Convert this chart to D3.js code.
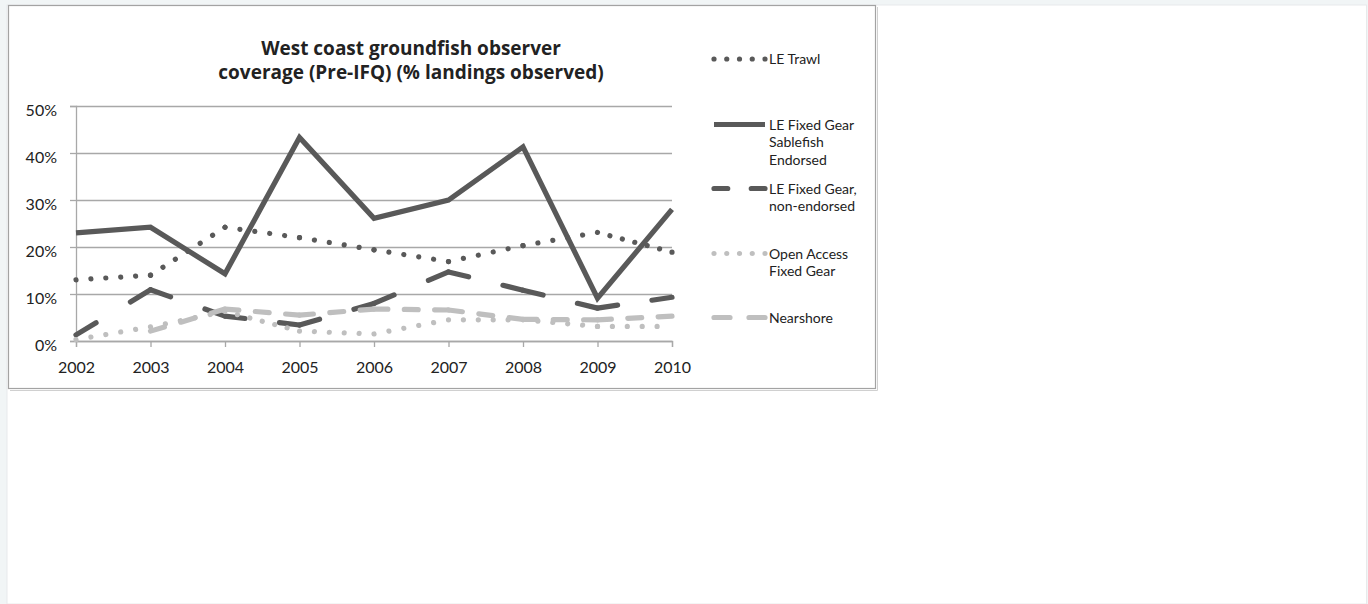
<!DOCTYPE html>
<html><head><meta charset="utf-8">
<script src="https://cdn.jsdelivr.net/npm/d3@7"></script>
<style>
html,body{margin:0;padding:0;background:#f1f5f6;}
svg{display:block;}
text{font-family:Lato,"Open Sans",sans-serif;fill:#222;}
</style></head><body>
<svg id="chart" width="1368" height="604"></svg>
<script>
// ---- data ----
const years = [2002, 2003, 2004, 2005, 2006, 2007, 2008, 2009, 2010];
const leTrawl        = [13.0, 14.0, 24.2, 22.0, 19.4, 16.9, 20.3, 23.1, 18.9];
const leFixedSable   = [23.0, 24.2, 14.3, 43.3, 26.1, 30.0, 41.3, 9.1, 28.0];
const leFixedNonEnd  = [1.3, 10.9, 5.3, 3.4, 8.0, 14.7, 10.8, 7.0, 9.3];
const openAccess     = [0.3, 3.0, 6.3, 2.1, 1.5, 4.5, 4.5, 3.1, 3.1];
const nearshore      = [null, 2.1, 6.8, 5.5, 6.8, 6.6, 4.6, 4.5, 5.3];
const yTicks = [0, 10, 20, 30, 40, 50];
const titleLines = ["West coast groundfish observer", "coverage (Pre-IFQ) (% landings observed)"];
const legendLabels = [
  ["LE Trawl"],
  ["LE Fixed Gear", "Sablefish", "Endorsed"],
  ["LE Fixed Gear,", "non-endorsed"],
  ["Open Access", "Fixed Gear"],
  ["Nearshore"]
];

const DARK = "#595959", LIGHT = "#bfbfbf";
const series = [
  {values: leTrawl, color: DARK, kind: "dot"},
  {values: leFixedSable, color: DARK, kind: "solid"},
  {values: leFixedNonEnd, color: DARK, kind: "dash", d: 24, g: 27},
  {values: openAccess, color: LIGHT, kind: "dot"},
  {values: nearshore, color: LIGHT, kind: "dash", d: 18, g: 10}
];

const svg = d3.select("#chart");
// page white area
svg.append("rect").attr("x", 7).attr("y", 5).attr("width", 1359.5).attr("height", 599)
  .attr("fill", "#fff").attr("stroke", "#e8eaeb").attr("stroke-width", 1);
// chart box
svg.append("rect").attr("x", 8.5).attr("y", 5.5).attr("width", 867).attr("height", 383)
  .attr("fill", "#fff").attr("stroke", "#a3a3a3").attr("stroke-width", 1.2);
svg.append("path").attr("d", "M876.5,6 V389.5 H9").attr("fill", "none")
  .attr("stroke", "#d0d0d0").attr("stroke-width", 1).attr("transform", "translate(1,1)");

const x = d3.scaleLinear().domain([2002, 2010]).range([76, 672]);
const y = d3.scaleLinear().domain([0, 50]).range([341, 106]);

// gridlines
const grid = svg.append("g").attr("transform", "translate(76,0)")
  .call(d3.axisLeft(y).tickValues(yTicks).tickSize(-(672 - 76)).tickFormat(""));
grid.select(".domain").remove();
grid.selectAll("line").attr("stroke", "#a8a8a8").attr("stroke-width", 1.3);

// y axis
const yAx = svg.append("g").attr("transform", "translate(76,0)")
  .call(d3.axisLeft(y).tickValues(yTicks).tickSize(6).tickPadding(13).tickFormat(d => d + "%"));
yAx.select(".domain").attr("stroke", "#a8a8a8").attr("stroke-width", 1.3);
yAx.selectAll("line").attr("stroke", "#a8a8a8").attr("stroke-width", 1.3);
yAx.selectAll("text").attr("dy", "0.6em").style("font-size", "16px").style("font-family", "Lato");

// x axis
const xAx = svg.append("g").attr("transform", "translate(0,341)")
  .call(d3.axisBottom(x).tickValues(years).tickSize(6).tickPadding(15).tickFormat(d3.format("d")));
xAx.select(".domain").attr("stroke", "#a8a8a8").attr("stroke-width", 1.3);
xAx.selectAll("line").attr("stroke", "#a8a8a8").attr("stroke-width", 1.3);
xAx.selectAll("text").style("font-size", "16px").style("font-family", "Lato");

// title
svg.append("g").selectAll("text").data(titleLines).join("text")
  .attr("x", 411).attr("y", (d, i) => 55 + i * 24)
  .attr("text-anchor", "middle")
  .style("font-family", "'Open Sans'")
  .style("font-size", "19px").style("font-weight", "bold")
  .text(d => d);

const W = 5.2;
function styleSeg(path, L, s) {
  if (s.kind === "dot") {
    const n = Math.max(1, Math.round(L / 14));
    const sp = L / n;
    path.attr("stroke-dasharray", `0.01 ${sp - 0.01}`).attr("stroke-linecap", "round");
  } else if (s.kind === "dash") {
    const a0 = s.d - W, b0 = s.g + W;
    const n = Math.max(1, Math.round((L + b0) / (a0 + b0)));
    const k = L / (n * a0 + (n - 1) * b0);
    path.attr("stroke-dasharray", `${a0 * k} ${b0 * k}`).attr("stroke-linecap", "round");
  }
}

const line = d3.line().x(d => d[0]).y(d => d[1]);
const plot = svg.append("g");
series.forEach(s => {
  const pts = years.map((yr, i) => s.values[i] == null ? null : [x(yr), y(s.values[i])]);
  if (s.kind === "solid") {
    plot.append("path")
      .attr("d", d3.line().defined(d => d != null).x(d => d[0]).y(d => d[1])(pts))
      .attr("fill", "none").attr("stroke", s.color).attr("stroke-width", W)
      .attr("stroke-linejoin", "miter");
  } else {
    for (let i = 0; i < pts.length - 1; i++) {
      const p = pts[i], q = pts[i + 1];
      if (!p || !q) continue;
      const L = Math.hypot(q[0] - p[0], q[1] - p[1]);
      const path = plot.append("path").attr("d", line([p, q]))
        .attr("fill", "none").attr("stroke", s.color).attr("stroke-width", W);
      styleSeg(path, L, s);
    }
  }
});

// legend
const legBase = [64, 129.5, 193.5, 258.5, 322.5];
const leg = svg.append("g");
series.forEach((s, i) => {
  const yy = legBase[i] - 5;
  const path = leg.append("path").attr("d", line([[714, yy], [765, yy]]))
    .attr("fill", "none").attr("stroke", s.color).attr("stroke-width", W);
  styleSeg(path, 51, s);
  leg.append("text").attr("x", 769).attr("y", legBase[i])
    .style("font-size", "14px")
    .selectAll("tspan").data(legendLabels[i]).join("tspan")
    .attr("x", 769).attr("dy", (d, j) => j === 0 ? 0 : 17.7)
    .text(d => d);
});
</script>
</body></html>
